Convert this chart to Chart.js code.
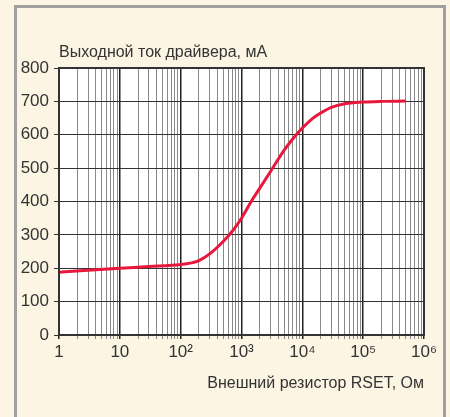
<!DOCTYPE html>
<html lang="ru">

<head>
    <meta charset="UTF-8">
    <title>Выходной ток драйвера</title>
    <script src="https://cdn.jsdelivr.net/npm/chart.js"></script>
    <style>
        body {
            margin: 0;
            background: #fdf5e4;
        }

        .chart-container {
            width: 450px;
            height: 417px;
        }
    </style>
</head>

<body>
    <div class="chart-container">
        <canvas id="grafico" width="450" height="417"></canvas>
    </div>

    <script>
        // сопротивление RSET, Ом
        const resistencia = [1, 3, 10, 30, 100, 150, 200, 300, 500, 700, 1000, 1500, 2000, 3000, 5000, 7000, 10000, 15000, 20000, 30000, 50000, 100000, 200000, 500000];
        // выходной ток, мА
        const corriente = [188, 194, 200, 205, 211, 216, 223, 243, 280, 310, 350, 405, 440, 490, 553, 588, 620, 650, 665, 682, 693, 698, 700, 701];

        const yTicks = [0, 100, 200, 300, 400, 500, 600, 700, 800];
        const xDecadas = [1, 10, 100, 1000, 10000, 100000, 1000000];
        const xEtiquetas = ['1', '10', '10²', '10³', '10⁴', '10⁵', '10⁶'];

        const fuente = '"Liberation Sans", Arial, sans-serif';

        const fondo = {
            id: 'fondo',
            beforeDraw(chart) {
                const c = chart.ctx;
                const a = chart.chartArea;
                c.save();
                c.fillStyle = '#fdf5e4';
                c.fillRect(0, 0, chart.width, chart.height);
                c.strokeStyle = '#a0a0a0';
                c.lineWidth = 3;
                c.strokeRect(15.5, 6.5, 429, chart.height + 10);
                c.fillStyle = '#ffffff';
                c.fillRect(a.left, a.top, a.right - a.left, a.bottom - a.top);
                c.restore();
            },
            afterDraw(chart) {
                const c = chart.ctx;
                const a = chart.chartArea;
                c.save();
                c.strokeStyle = '#333';
                c.lineWidth = 2;
                c.strokeRect(a.left, a.top, a.right - a.left, a.bottom - a.top);
                c.fillStyle = '#333';
                c.font = '16px ' + fuente;
                c.textBaseline = 'alphabetic';
                c.fillText('Выходной ток драйвера, мА', 59, 57);
                c.restore();
            }
        };

        const ctx = document.getElementById('grafico').getContext('2d');
        const grafico = new Chart(ctx, {
            type: 'line',
            data: {
                datasets: [{
                    data: resistencia.map((r, i) => ({ x: r, y: corriente[i] })),
                    borderColor: '#e8173c',
                    borderWidth: 3,
                    pointRadius: 0,
                    cubicInterpolationMode: 'monotone',
                    fill: false
                }]
            },
            options: {
                responsive: false,
                animation: false,
                devicePixelRatio: 1,
                layout: {
                    padding: { left: 0, top: 68, right: 26, bottom: 24 }
                },
                plugins: {
                    legend: { display: false },
                    tooltip: { enabled: false }
                },
                scales: {
                    x: {
                        type: 'logarithmic',
                        min: 1,
                        max: 1000000,
                        afterBuildTicks(scale) {
                            const t = [];
                            for (let d = 1; d < 1000000; d *= 10) {
                                for (let k = 1; k < 10; k++) t.push({ value: k * d });
                            }
                            t.push({ value: 1000000 });
                            scale.ticks = t;
                        },
                        afterFit(scale) {
                            scale.height = 58;
                        },
                        border: { display: false },
                        grid: {
                            color: (c) => xDecadas.includes(c.tick && c.tick.value) ? '#222' : '#8a8a8a',
                            lineWidth: (c) => xDecadas.includes(c.tick && c.tick.value) ? 1.5 : 1,
                            tickLength: 4,
                            drawTicks: true
                        },
                        ticks: {
                            autoSkip: false,
                            maxRotation: 0,
                            padding: 3,
                            color: '#333',
                            font: { family: fuente, size: 17 },
                            callback: (v) => {
                                const i = xDecadas.indexOf(v);
                                return i >= 0 ? xEtiquetas[i] : '';
                            }
                        },
                        title: {
                            display: true,
                            text: 'Внешний резистор RSET, Ом',
                            align: 'end',
                            color: '#333',
                            font: { family: fuente, size: 16 },
                            padding: { top: 2, bottom: 0 }
                        }
                    },
                    y: {
                        min: 0,
                        max: 800,
                        afterBuildTicks(scale) {
                            scale.ticks = yTicks.map(v => ({ value: v }));
                        },
                        afterFit(scale) {
                            scale.width = 59;
                        },
                        border: { display: false },
                        grid: {
                            color: '#333',
                            lineWidth: 1,
                            tickLength: 5
                        },
                        ticks: {
                            padding: 5,
                            color: '#333',
                            font: { family: fuente, size: 17 }
                        }
                    }
                }
            },
            plugins: [fondo]
        });
    </script>

</body>

</html>
